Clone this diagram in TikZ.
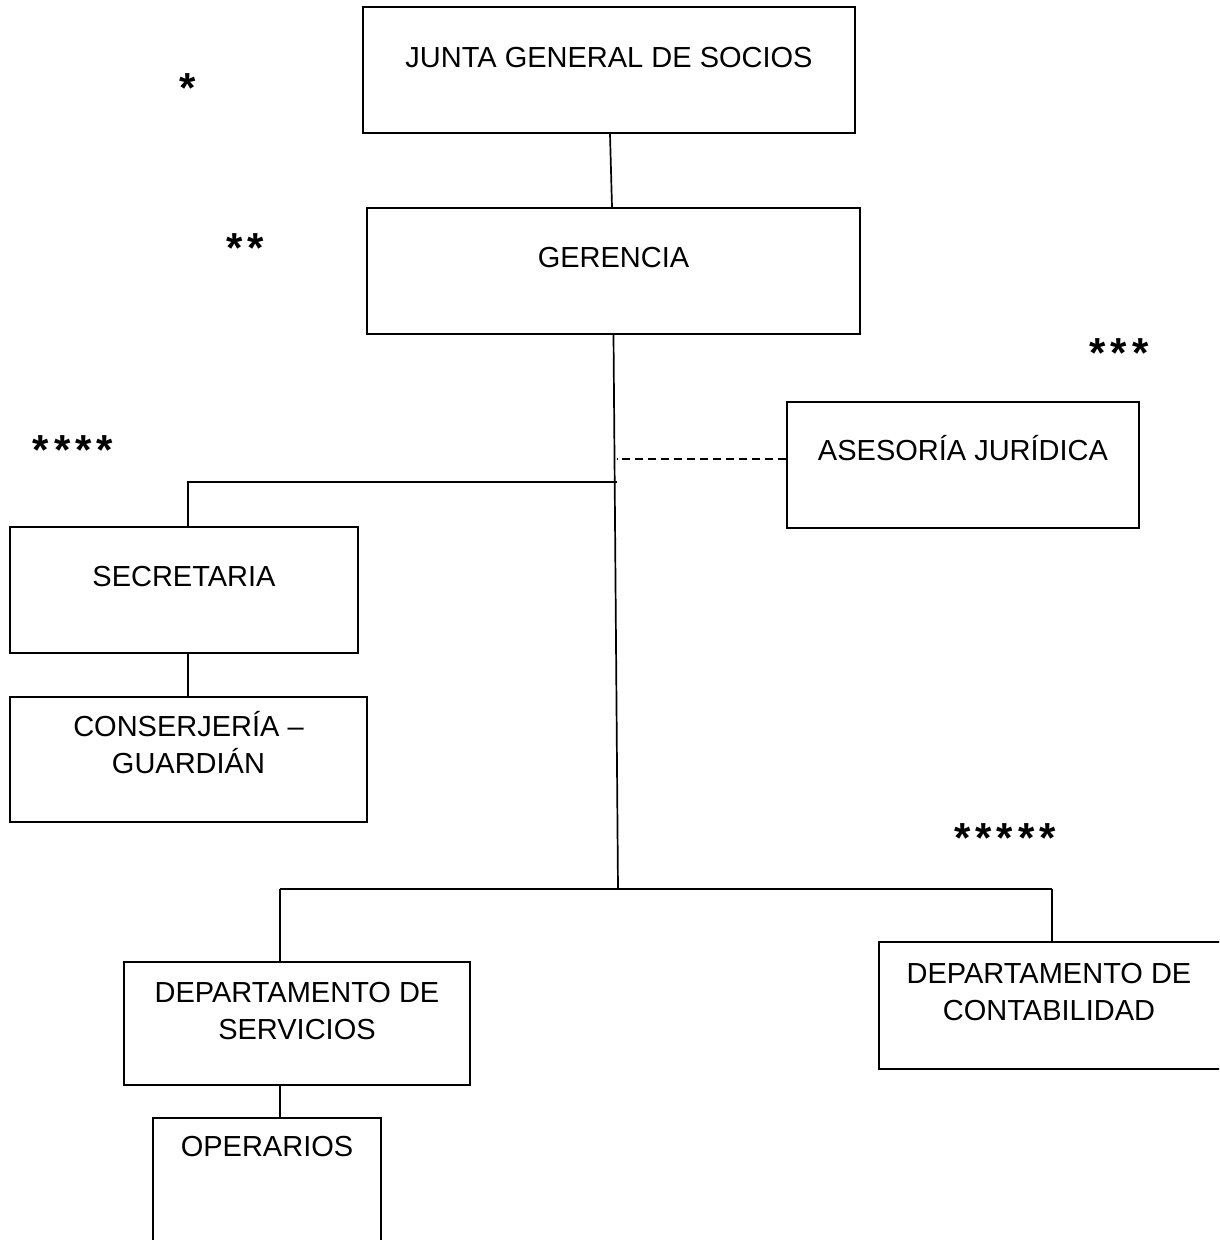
\documentclass[tikz,border=0pt]{standalone}
\usepackage{fontspec}
\setmainfont{Liberation Sans}
\begin{document}
\begin{tikzpicture}[x=1pt, y=-1pt, line width=1.7pt,
    box/.style={draw, inner sep=0pt},
    lbl/.style={font=\fontsize{29}{37}\selectfont, align=center, anchor=base, inner sep=0pt},
    stars/.style={font=\bfseries\fontsize{42}{42}\selectfont, anchor=north, inner sep=0pt}]
  \clip (0,0) rectangle (1219,1240);
  % boxes
  \node[box, minimum width=492, minimum height=126] (junta) at (609,70) {};
  \node[box, minimum width=493, minimum height=126] (gerencia) at (613.5,271) {};
  \node[box, minimum width=352, minimum height=126] (asesoria) at (963,465) {};
  \node[box, minimum width=348, minimum height=126] (secretaria) at (184,590) {};
  \node[box, minimum width=357, minimum height=125] (conserjeria) at (188.5,759.5) {};
  \node[box, minimum width=346, minimum height=123] (servicios) at (297,1023.5) {};
  \node[box, minimum width=350, minimum height=127] (contabilidad) at (1054,1005.5) {};
  \node[box, minimum width=228, minimum height=132] (operarios) at (267,1184) {};
  % texts
  \node[lbl] (juntaT) at (609,67) {JUNTA GENERAL DE SOCIOS};
  \node[lbl] (gerenciaT) at (613.5,267) {GERENCIA};
  \node[lbl] (asesoriaT) at (963,460) {ASESORÍA JURÍDICA};
  \node[lbl] (secretariaT) at (184,586) {SECRETARIA};
  \node[lbl] (conserjeriaT) at (188.5,773) {CONSERJERÍA –\\GUARDIÁN};
  \node[lbl] (serviciosT) at (297,1039) {DEPARTAMENTO DE\\SERVICIOS};
  \node[lbl] (contabilidadT) at (1049,1020) {DEPARTAMENTO DE\\CONTABILIDAD};
  \node[lbl] (operariosT) at (267,1156) {OPERARIOS};
  % asterisks
  \node[stars] (s1) at (188,73) {*};
  \node[stars] (s2) at (245,233) {*\hspace{5pt}*};
  \node[stars] (s3) at (1119,338) {*\hspace{5pt}*\hspace{5pt}*};
  \node[stars] (s4) at (73,435) {*\hspace{5pt}*\hspace{5pt}*\hspace{5pt}*};
  \node[stars] (s5) at (1005,823) {*\hspace{5pt}*\hspace{5pt}*\hspace{5pt}*\hspace{5pt}*};
  % connectors
  \coordinate (split) at (617,482);
  \coordinate (secTop) at (188,482);
  \coordinate (dashL) at (617,459);
  \coordinate (hub) at (618,889);
  \coordinate (servTop) at (280,889);
  \coordinate (contTop) at (1052,889);
  \draw ([xshift=1pt]junta.south) -- ([xshift=-1.5pt]gerencia.north);
  \draw (gerencia.south) -- (hub);
  \draw (split) -- (secTop) -- (secTop |- secretaria.north);
  \draw (secTop |- secretaria.south) -- (secTop |- conserjeria.north);
  \draw[line width=1.3pt, dash pattern=on 8.5pt off 4.5pt] (dashL -| asesoria.west) -- (dashL);
  \draw (servTop) -- (contTop);
  \draw (servTop) -- (servTop |- servicios.north);
  \draw (contTop) -- (contTop |- contabilidad.north);
  \draw (servTop |- servicios.south) -- (servTop |- operarios.north);
\end{tikzpicture}
\end{document}
